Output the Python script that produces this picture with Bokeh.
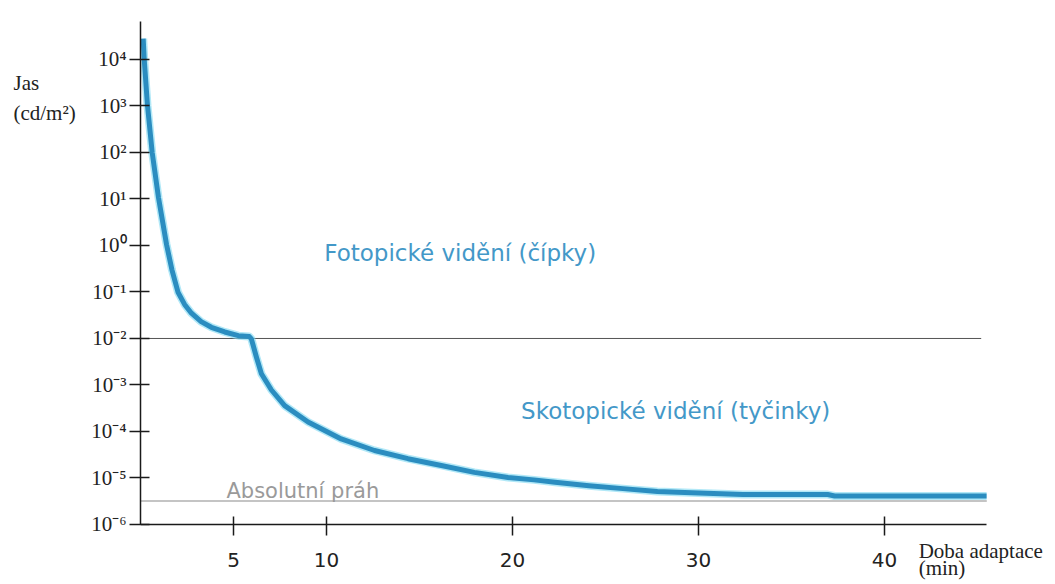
from bokeh.plotting import figure
from bokeh.models import Range1d, FixedTicker, CustomJSTickFormatter, Label
from bokeh.embed import file_html
from bokeh.resources import INLINE

# ---- data ----
time_min = [0.145, 0.2, 0.376, 0.628, 0.967, 1.40, 1.69, 2.02, 2.37, 2.74, 3.26, 3.81,
            4.53, 5.26, 5.85, 5.96, 6.23, 6.50, 7.04, 7.75, 9.01, 10.79, 12.58, 14.38,
            16.17, 17.95, 19.76, 21.16, 22.29, 24.11, 25.94, 27.79, 29.63, 32.39,
            36.95, 37.32, 45.49]
luminance = [2.8e4, 1.0e4, 1.02e3, 1.0e2, 1.07e1, 1.05, 3.0e-1, 9.8e-2, 5.4e-2, 3.5e-2,
             2.3e-2, 1.74e-2, 1.38e-2, 1.15e-2, 1.1e-2, 9.8e-3, 4.0e-3, 1.74e-3, 7.8e-4,
             3.6e-4, 1.6e-4, 6.9e-5, 3.9e-5, 2.6e-5, 1.86e-5, 1.32e-5, 1.02e-5, 9.1e-6,
             8.1e-6, 6.8e-6, 5.9e-6, 5.1e-6, 4.8e-6, 4.4e-6, 4.4e-6, 4.1e-6, 4.1e-6]

cone_rod_limit = 1e-2            # horizontal line between photopic / scotopic
cone_rod_line_x = [0, 45.2]
absolute_threshold = 3.2e-6      # absolute threshold line
threshold_line_x = [0, 45.5]

x_axis_extent = (0, 45.5)
y_axis_extent = (1e-6, 10 ** 4.817)

x_tick_values = [5, 10, 20, 30, 40]
x_tick_labels = ["5", "10", "20", "30", "40"]
y_tick_values = [1e-6, 1e-5, 1e-4, 1e-3, 1e-2, 1e-1, 1e0, 1e1, 1e2, 1e3, 1e4]
y_tick_labels = ["10⁻⁶", "10⁻⁵", "10⁻⁴", "10⁻³", "10⁻²", "10⁻¹", "10⁰", "10¹", "10²", "10³", "10⁴"]

photopic_text = "Fotopické vidění (čípky)"
scotopic_text = "Skotopické  vidění (tyčinky)"
threshold_text = "Absolutní práh"
y_title_1 = "Jas"
y_title_2 = "(cd/m²)"
x_title_1 = "Doba adaptace"
x_title_2 = "(min)"

# annotation anchor positions (data units, left edge / baseline)
photopic_pos = (9.88, 10 ** -0.172)
scotopic_pos = (20.46, 10 ** -3.563)
threshold_pos = (4.62, 10 ** -5.29)
y_title_1_pos = (-6.83, 10 ** 3.484)
y_title_2_pos = (-6.83, 10 ** 2.839)
x_title_1_pos = (41.84, 10 ** -6.58)
x_title_2_pos = (41.84, 10 ** -6.946)

CURVE = "#2b8dc0"
HALO = "#7dd8f2"
TEXT_BLUE = "#4398c8"
INK = "#1a1a1a"

p = figure(width=1055, height=584, output_backend="svg", toolbar_location=None,
           y_axis_type="log",
           x_range=Range1d(0, 49.195), y_range=Range1d(10 ** -7.291, 10 ** 4.817),
           min_border_left=139, min_border_right=0, min_border_top=21,
           min_border_bottom=0)
p.outline_line_color = None
p.xgrid.visible = False
p.ygrid.visible = False
p.background_fill_color = "white"
p.border_fill_color = "white"

xa = p.xaxis[0]
ya = p.yaxis[0]
for ax in (xa, ya):
    ax.axis_line_color = INK
    ax.axis_line_width = 1.5
    ax.major_tick_line_color = INK
    ax.major_tick_line_width = 1.5
    ax.minor_tick_line_color = None
    ax.major_label_text_color = "#222222"

# x axis: drawn at y = 1e-6, line limited to 0..45.5
xa.fixed_location = 1e-6
xa.bounds = x_axis_extent
xa.ticker = FixedTicker(ticks=x_tick_values)
xa.major_label_overrides = {v: l for v, l in zip(x_tick_values, x_tick_labels)}
xa.major_tick_in = 8
xa.major_tick_out = 11
xa.major_label_standoff = 18
xa.major_label_text_font = "DejaVu Sans"
xa.major_label_text_font_size = "20px"

ya.bounds = y_axis_extent
ya.ticker = FixedTicker(ticks=y_tick_values)
ya.formatter = CustomJSTickFormatter(args=dict(vals=y_tick_values, labels=y_tick_labels), code="""
    for (let i = 0; i < vals.length; i++) {
        if (Math.abs(Math.log10(tick) - Math.log10(vals[i])) < 1e-6) return labels[i];
    }
    return "";
""")
ya.major_tick_in = 9
ya.major_tick_out = 11
ya.major_label_standoff = 3
ya.major_label_text_font = "Liberation Serif"
ya.major_label_text_font_size = "21px"

# reference lines
p.line(cone_rod_line_x, [cone_rod_limit] * 2, line_color="#555555", line_width=1)
p.line(threshold_line_x, [absolute_threshold] * 2, line_color="#c4c4c4", line_width=2)

# adaptation curve
p.line(time_min, luminance, line_color=HALO, line_width=8, line_alpha=0.6, line_join="round")
p.line(time_min, luminance, line_color=CURVE, line_width=5, line_join="round")

def make_label(text, pos, color, font, size):
    return Label(x=pos[0], y=pos[1], text=text, text_color=color, text_font=font,
                 text_font_size=size, text_align="left", text_baseline="alphabetic")

p.add_layout(make_label(photopic_text, photopic_pos, TEXT_BLUE, "DejaVu Sans", "23px"))
p.add_layout(make_label(scotopic_text, scotopic_pos, TEXT_BLUE, "DejaVu Sans", "23px"))
p.add_layout(make_label(threshold_text, threshold_pos, "#9a9a9a", "DejaVu Sans", "21px"))
p.add_layout(make_label(x_title_1, x_title_1_pos, "#222222", "Liberation Serif", "21px"))
p.add_layout(make_label(x_title_2, x_title_2_pos, "#222222", "Liberation Serif", "21px"))
# y-axis title sits left of the frame: keep it in the left side panel (not clipped)
p.add_layout(make_label(y_title_1, y_title_1_pos, "#222222", "Liberation Serif", "21px"), "left")
p.add_layout(make_label(y_title_2, y_title_2_pos, "#222222", "Liberation Serif", "21px"), "left")

open("out.html", "w").write(file_html(p, INLINE))
